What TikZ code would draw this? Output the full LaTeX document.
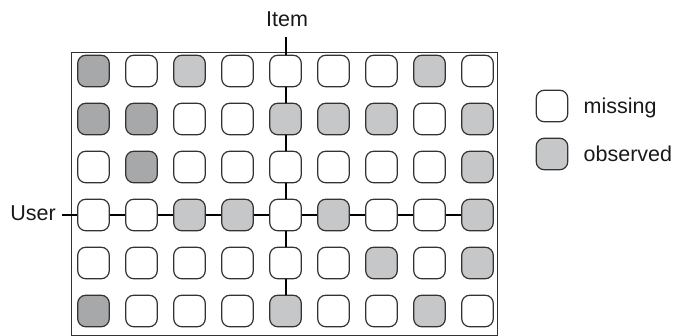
\documentclass[tikz,border=0pt]{standalone}
\usepackage{fontspec}
\setmainfont{Liberation Sans}
\definecolor{darkcell}{HTML}{A7A8AA}
\definecolor{lightcell}{HTML}{C6C7C8}
\definecolor{edgegray}{HTML}{333333}
\tikzset{
  cell/.style={draw=edgegray, line width=1.2pt, rounded corners=8pt, minimum width=31.5pt, minimum height=31.5pt, inner sep=0pt},
  W/.style={cell, fill=white},
  D/.style={cell, fill=darkcell},
  L/.style={cell, fill=lightcell},
  link/.style={line width=2pt, black},
  lbl/.style={font=\fontsize{21.5}{24}\selectfont, text=black!90, inner sep=0pt}
}
\begin{document}
\begin{tikzpicture}[x=1pt,y=-1pt]
\useasboundingbox (0,0) rectangle (673,336);
\draw[line width=1pt, edgegray] (71,52.5) rectangle (497,335.5);
\foreach \row [count=\r] in {
  {D,W,L,W,W,W,W,L,W},
  {D,D,W,W,L,L,L,W,L},
  {W,D,W,W,W,W,W,W,L},
  {W,W,L,L,W,L,W,W,L},
  {W,W,W,W,W,W,L,W,L},
  {D,W,W,W,L,W,W,L,W}}{
  \foreach \t [count=\c] in \row {
    \node[\t] (c-\r-\c) at ({93.5+48*(\c-1)},{71+48*(\r-1)}) {};
  }
}
% Item
\node[lbl, anchor=base] (item) at (287,26.5) {Item};
\coordinate (itemtip) at (285.5,37);
\draw[link] (itemtip) -- (c-1-5.north);
\foreach \r [evaluate=\r as \n using int(\r+1)] in {1,...,5}{
  \draw[link] (c-\r-5.south) -- (c-\n-5.north);
}
% User
\node[lbl, anchor=base east] (user) at (56,221) {User};
\coordinate (usertip) at (62,215);
\draw[link] (usertip) -- (c-4-1.west);
\foreach \c [evaluate=\c as \n using int(\c+1)] in {1,...,8}{
  \draw[link] (c-4-\c.east) -- (c-4-\n.west);
}
% legend
\node[W] (legw) at (552,106) {};
\node[L] (legl) at (552,154) {};
\node[lbl, anchor=base west] (missing) at (583.5,113.5) {missing};
\node[lbl, anchor=base west] (observed) at (583.5,161.5) {observed};
\end{tikzpicture}
\end{document}
